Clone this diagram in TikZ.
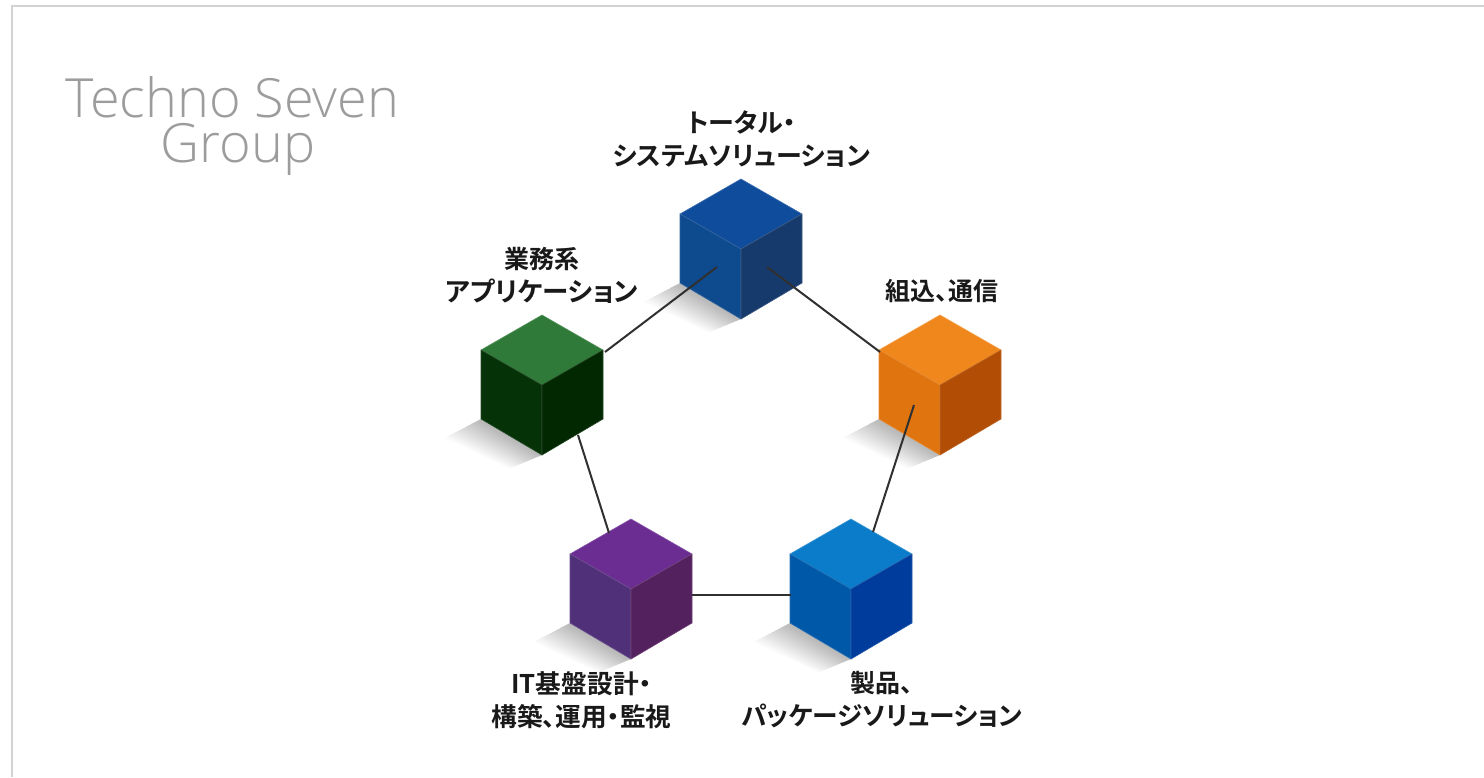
\documentclass[tikz,border=0pt]{standalone}
\usepackage{fontspec}
\setmainfont{Noto Sans CJK JP}[BoldFont={* Bold},RawFeature={+palt}]
\newfontfamily\titlefont{Open Sans Light}
\usetikzlibrary{calc}
\definecolor{frameC}{HTML}{D2D2D2}
\definecolor{titleC}{HTML}{9C9C9C}
\definecolor{lineC}{HTML}{303030}
\newcommand{\sz}[1]{\fontsize{#1}{33}\selectfont}
\tikzset{
  x=1pt,y=-1pt,
  frame/.style={draw=frameC,line width=2pt},
  label/.style={font=\fontsize{25}{33}\selectfont\bfseries,align=center,text=black!90,inner sep=0pt},
  title/.style={font=\titlefont\fontsize{54}{45}\selectfont,align=center,text=titleC,inner sep=0pt},
  link/.style={draw=lineC,line width=2pt},
  cubeedge/.style={line width=.6pt,line join=round},
}
\newcommand{\cubeAt}[6]{% name,x,y(top),top,left,right
  \begin{scope}[shift={(#2,#3)}]
    \foreach \t in {1,...,18}{
      \fill[black,opacity=.016]
        (-61,104) -- ({-61-2*\t},{104+1.05*\t}) -- ({-1.8*\t},{140+.75*\t}) -- (0,140) -- cycle;
    }
    \filldraw[cubeedge,fill=#4,draw=#4!80!white] (0,0) -- (61,35) -- (0,70) -- (-61,35) -- cycle;
    \filldraw[cubeedge,fill=#5,draw=#5!85!white] (-61,35) -- (0,70) -- (0,140) -- (-61,104) -- cycle;
    \filldraw[cubeedge,fill=#6,draw=#6!85!white] (61,35) -- (0,70) -- (0,140) -- (61,104) -- cycle;
  \end{scope}
}
\begin{document}
\begin{tikzpicture}
\useasboundingbox (0,0) rectangle (1484,777);
\fill[white] (0,0) rectangle (1484,777);
\coordinate (frameBL) at (12,777);
\coordinate (frameTL) at (12,6);
\coordinate (frameTR) at (1484,6);
\draw[frame] (frameBL) -- (frameTL) -- (frameTR);
\node[title] (ttl) at (232.5,126) {Techno Seven\\\hspace*{11pt}Group};

\definecolor{tT}{HTML}{0F4C9C}\definecolor{tL}{HTML}{0E4A8E}\definecolor{tR}{HTML}{173A6C}
\definecolor{gT}{HTML}{2F7A38}\definecolor{gL}{HTML}{063208}\definecolor{gR}{HTML}{012800}
\definecolor{oT}{HTML}{F0871D}\definecolor{oL}{HTML}{E0740E}\definecolor{oR}{HTML}{B14D04}
\definecolor{pT}{HTML}{6C2D93}\definecolor{pL}{HTML}{503079}\definecolor{pR}{HTML}{54215F}
\definecolor{bT}{HTML}{0A7CC9}\definecolor{bL}{HTML}{0058A8}\definecolor{bR}{HTML}{003C9C}

\cubeAt{top}{741}{179}{tT}{tL}{tR}
\cubeAt{green}{542}{315}{gT}{gL}{gR}
\cubeAt{orange}{940}{315}{oT}{oL}{oR}
\cubeAt{purple}{631}{519}{pT}{pL}{pR}
\cubeAt{cyan}{851}{519}{bT}{bL}{bR}

\coordinate (gA) at (605,352); \coordinate (tA) at (717,267);
\coordinate (tB) at (767,267); \coordinate (oA) at (880,352);
\coordinate (oB) at (914,405); \coordinate (cA) at (873,532);
\coordinate (gB) at (578,435); \coordinate (pA) at (609,533);
\coordinate (pB) at (692,595); \coordinate (cB) at (791,595);
\draw[link] (gA) -- (tA);
\draw[link] (tB) -- (oA);
\draw[link] (oB) -- (cA);
\draw[link] (gB) -- (pA);
\draw[link] (pB) -- (cB);

\node[label] (ltop) at (741.5,139) {{\sz{26}トータル・}\\{\sz{26}システムソリューション}};
\node[label] (lgreen) at (542,275) {業務系\\{\sz{26.5}アプリケーション}};
\node[label] (lorange) at (942,291) {組込、通信};
\node[label] (lpurple) at (581.5,700) {{\sz{25.7}IT基盤設計・}\\{\sz{25.7}構築、運用・監視}};
\node[label] (lcyan) at (882,700) {製品、\\{\sz{25.7}パッケージソリューション}};
\end{tikzpicture}
\end{document}
